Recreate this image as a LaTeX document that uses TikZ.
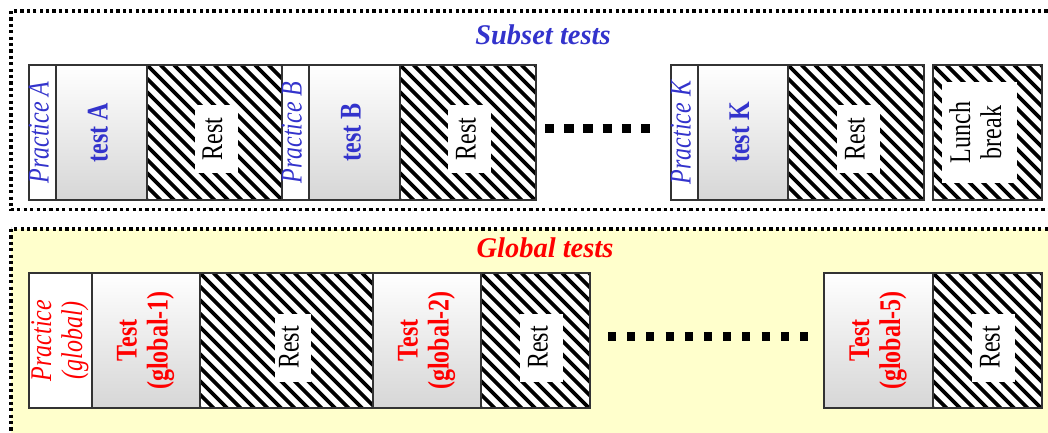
\documentclass[tikz,border=0pt]{standalone}
\usepackage{fontspec}
\setmainfont{Liberation Serif}
\definecolor{subblue}{RGB}{51,51,204}
\definecolor{globred}{RGB}{255,0,0}
\definecolor{paleyellow}{RGB}{255,255,204}
\definecolor{edgegray}{RGB}{51,51,51}
% narrow, stacked text used inside the upright blocks
\newcommand{\vlines}[1]{\scalebox{0.8}[1]{\begin{tabular}{@{}c@{}}#1\end{tabular}}}
\tikzset{
  hatch/.style={path picture={
    \foreach \k in {-12,...,15}{
      \draw[black, line width=3.8pt]
        ([xshift=\k*13.5pt]path picture bounding box.north west) -- ++(200pt,-200pt);
    }}},
  frame/.style={draw=black, line width=3.2pt, dash pattern=on 3.2pt off 3.2pt},
  block/.style={draw=edgegray, line width=1.2pt, anchor=north west,
    inner sep=0pt, outer sep=0pt, minimum height=135pt},
  practiceblk/.style={block, fill=white},
  testblk/.style={block, top color=white, bottom color=black!16},
  restblk/.style={block, fill=white, hatch},
  vtext/.style={rotate=90, inner sep=0pt, font=\fontsize{30}{31}\selectfont},
  restbox/.style={vtext, fill=white, minimum width=68pt, minimum height=43pt},
  title/.style={anchor=base, font=\fontsize{28.5}{30}\selectfont\bfseries\itshape},
  dotrow/.style={line width=9pt, line cap=butt}
}
\begin{document}
\begin{tikzpicture}[x=1pt,y=-1pt]
\useasboundingbox (0,0) rectangle (1048,432);

% dotted frames of the two sections
\begin{scope}
  \clip (0,0) rectangle (1048,432);
  \draw[frame] (11,11) rectangle (1070,209.5);
  \fill[paleyellow] (11,229) rectangle (1070,450);
  \draw[frame] (11,229) rectangle (1070,450);
\end{scope}

% ---------- subset tests ----------
\node[title, text=subblue] (subsettitle) at (543,44) {Subset tests};

\node[practiceblk, minimum width=27pt] (pA) at (29,65) {};
\node[testblk, minimum width=91pt] (tA) at (56,65) {};
\node[restblk, minimum width=135pt] (rA) at (147,65) {};
\node[practiceblk, minimum width=27pt] (pB) at (282,65) {};
\node[testblk, minimum width=91pt] (tB) at (309,65) {};
\node[restblk, minimum width=136pt] (rB) at (400,65) {};
\node[practiceblk, minimum width=27pt] (pK) at (671,65) {};
\node[testblk, minimum width=90pt] (tK) at (698,65) {};
\node[restblk, minimum width=136pt] (rK) at (788,65) {};
\node[restblk, minimum width=109pt] (lunch) at (933,65) {};

\node[vtext, text=subblue] (pAt) at (pA.center) {\vlines{\itshape Practice A}};
\node[vtext, text=subblue] (tAt) at (tA.center) {\vlines{\bfseries test A}};
\node[restbox] (rAt) at (216,139) {\vlines{Rest}};
\node[vtext, text=subblue] (pBt) at (pB.center) {\vlines{\itshape Practice B}};
\node[vtext, text=subblue] (tBt) at (tB.center) {\vlines{\bfseries test B}};
\node[restbox] (rBt) at (469.5,139) {\vlines{Rest}};
\node[vtext, text=subblue] (pKt) at (pK.center) {\vlines{\itshape Practice K}};
\node[vtext, text=subblue] (tKt) at (tK.center) {\vlines{\bfseries test K}};
\node[restbox] (rKt) at (858.5,139) {\vlines{Rest}};
\node[restbox, minimum width=101pt, minimum height=75pt] (lunchT) at (979.5,132.5)
  {\vlines{Lunch\\break}};

\coordinate (sdL) at (545,128.5);
\coordinate (sdR) at (651,128.5);
\draw[dotrow, dash pattern=on 9.3pt off 9.9pt] (sdL) -- (sdR);

% ---------- global tests ----------
\node[title, text=globred] (globaltitle) at (545,257) {Global tests};

\node[practiceblk, minimum width=63pt] (pG) at (29,273) {};
\node[testblk, minimum width=108pt] (g1) at (92,273) {};
\node[restblk, minimum width=173pt] (r1) at (200,273) {};
\node[testblk, minimum width=108pt] (g2) at (373,273) {};
\node[restblk, minimum width=109pt] (r2) at (481,273) {};
\node[testblk, minimum width=109pt] (g5) at (824,273) {};
\node[restblk, minimum width=109pt] (r5) at (933,273) {};

\node[vtext, text=globred] (pGt) at (pG.center) {\vlines{\itshape Practice\\\itshape (global)}};
\node[vtext, text=globred] (g1t) at (g1.center) {\vlines{\bfseries Test\\\bfseries (global-1)}};
\node[restbox, minimum height=36pt] (r1t) at (292.5,347.5) {\vlines{Rest}};
\node[vtext, text=globred] (g2t) at (g2.center) {\vlines{\bfseries Test\\\bfseries (global-2)}};
\node[restbox] (r2t) at (541.5,347.5) {\vlines{Rest}};
\node[vtext, text=globred] (g5t) at (g5.center) {\vlines{\bfseries Test\\\bfseries (global-5)}};
\node[restbox] (r5t) at (993.5,347.5) {\vlines{Rest}};

\coordinate (gdL) at (608,336);
\coordinate (gdR) at (808,336);
\draw[dotrow, dash pattern=on 8pt off 11.2pt] (gdL) -- (gdR);
\end{tikzpicture}
\end{document}
